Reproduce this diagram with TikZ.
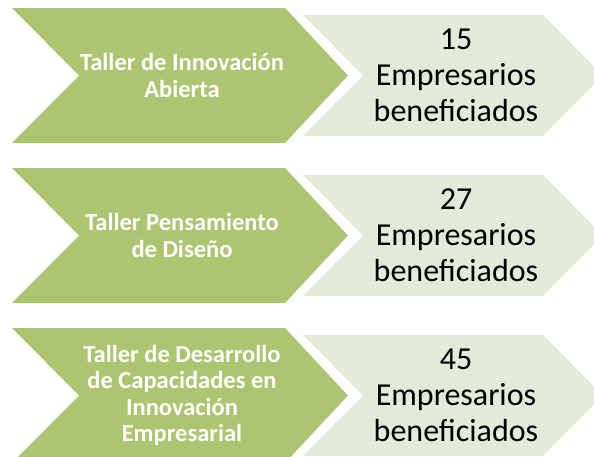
\documentclass[tikz,border=0pt]{standalone}
\usepackage{fontspec}
\setmainfont{Carlito}
\definecolor{verde}{HTML}{ADC570}
\definecolor{verdeclaro}{HTML}{E3EAD9}
\tikzset{taller/.style={text=white, align=center, font=\bfseries\fontsize{24.5}{26.5}\selectfont},
%chevron text on the light side
benef/.style={text=black, align=center, font=\fontsize{32}{36}\selectfont}}

\begin{document}
\begin{tikzpicture}[x=1pt,y=-1pt]
\useasboundingbox (0,0) rectangle (594,456);

\foreach \row/\nombre/\cifra in {0/{Taller de Innovación\\Abierta}/15,
  1/{Taller Pensamiento\\de Diseño}/27,
  2/{Taller de Desarrollo\\de Capacidades en\\Innovación\\Empresarial}/45}{
  \pgfmathsetmacro\t{8+160*\row}
  \fill[verde] (12,\t) -- (285,\t) -- (348,\t+67.5) -- (285,\t+135) -- (12,\t+135) -- (79,\t+67.5) -- cycle;
  \fill[verdeclaro] (303,\t+7) -- (543,\t+7) -- (603,\t+67.5) -- (543,\t+128) -- (303,\t+128) -- (363,\t+67.5) -- cycle;
  \node[taller] (taller\row) at (182,\t+67.5) {\nombre};
  \node[benef] (benef\row) at (456,\t+67.5) {\cifra\\Empresarios\\beneficiados};
}
\end{tikzpicture}
\end{document}
